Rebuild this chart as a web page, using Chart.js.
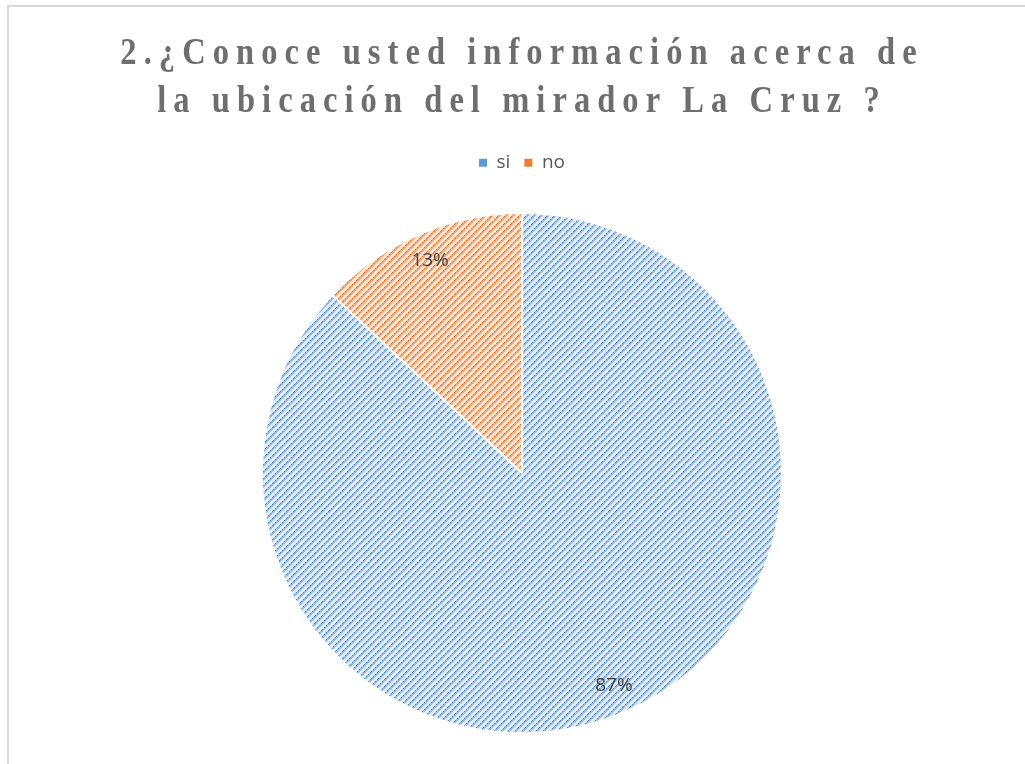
<!DOCTYPE html>
<html>
<head>
<meta charset="utf-8">
<script src="https://cdn.jsdelivr.net/npm/chart.js@4/dist/chart.umd.min.js"></script>
<style>
  html, body { margin: 0; padding: 0; background: #fff; }
  #wrap { position: relative; width: 1025px; height: 764px; }
</style>
</head>
<body>
<div id="wrap"><canvas id="pieChart" width="1025" height="764"></canvas></div>
<script>
// chart data
const titleLines = ['2.¿Conoce usted información acerca de', 'la ubicación del mirador La Cruz ?'];
const categories = ['si', 'no'];
const percents = [87, 13];
const baseColors = ['#5b9bd5', '#ed7d31'];

// excel style dotted diagonal fill
function makePattern(light, mid, dark) {
    const size = 7;
    const c = document.createElement('canvas');
    c.width = size; c.height = size;
    const g = c.getContext('2d');
    g.fillStyle = light;
    g.fillRect(0, 0, size, size);
    for (let i = 0; i < size; i++) {
        const y = size - 1 - i;
        g.fillStyle = mid;
        g.fillRect((i + 1) % size, y, 1, 1);
        g.fillRect((i + 2) % size, y, 1, 1);
        g.fillStyle = (i % 2 === 0) ? dark : mid;
        g.fillRect(i, y, 1, 1);
    }
    return g.createPattern(c, 'repeat');
}

const ctx = document.getElementById('pieChart').getContext('2d');
const fills = [
    makePattern('#e0ecf8', '#98bde8', '#4684ca'),
    makePattern('#fce4d4', '#f4a872', '#e36a20')
];

// frame lines on top and left, like the cropped excel chart
const framePlugin = {
    id: 'frame',
    beforeDraw(chart) {
        const c = chart.ctx;
        c.save();
        c.strokeStyle = '#d9d9d9';
        c.lineWidth = 2;
        c.beginPath();
        c.moveTo(8, chart.height);
        c.lineTo(8, 6);
        c.lineTo(chart.width, 6);
        c.stroke();
        c.restore();
    }
};

// spaced out, narrow title letters
const spacedTitle = {
    id: 'spacedTitle',
    beforeDraw(chart) {
        const tb = chart.titleBlock;
        if (tb && !tb._spaced) {
            const orig = tb.draw;
            tb.draw = function () {
                const c = this.ctx;
                const cx = (this.left + this.right) / 2;
                c.save();
                c.letterSpacing = '8px';
                c.translate(cx, 0);
                c.scale(0.88, 1);
                c.translate(-cx, 0);
                orig.apply(this, arguments);
                c.restore();
            };
            tb._spaced = true;
        }
    }
};

// percent labels inside slices
const pctLabels = {
    id: 'pctLabels',
    afterDatasetsDraw(chart) {
        const c = chart.ctx;
        const meta = chart.getDatasetMeta(0);
        c.save();
        c.font = '19px "Open Sans", "Liberation Sans", sans-serif';
        c.fillStyle = '#404040';
        c.textAlign = 'center';
        c.textBaseline = 'middle';
        meta.data.forEach((arc, i) => {
            const p = arc.getProps(['x', 'y', 'startAngle', 'endAngle', 'outerRadius'], true);
            const mid = (p.startAngle + p.endAngle) / 2;
            const r = p.outerRadius * 0.89;
            c.fillText(percents[i] + '%', p.x + Math.cos(mid) * r, p.y + Math.sin(mid) * r);
        });
        c.restore();
    }
};

const defaultLabels = Chart.overrides.pie.plugins.legend.labels.generateLabels;

new Chart(ctx, {
    type: 'pie',
    data: {
        labels: categories,
        datasets: [{
            data: percents,
            backgroundColor: fills,
            borderColor: '#ffffff',
            borderWidth: 2,
            radius: 260
        }]
    },
    options: {
        responsive: false,
        animation: false,
        layout: { padding: { left: 19, right: 0, top: 0, bottom: 0 } },
        plugins: {
            title: {
                display: true,
                text: titleLines,
                color: '#6e6e6e',
                font: { family: '"Liberation Serif", "DejaVu Serif", serif', size: 37, weight: 'bold', lineHeight: 1.3 },
                padding: { top: 30, bottom: 13 }
            },
            legend: {
                position: 'top',
                labels: {
                    boxWidth: 8,
                    boxHeight: 8,
                    padding: 14,
                    color: '#595959',
                    font: { family: '"Open Sans", "Liberation Sans", sans-serif', size: 19 },
                    generateLabels(chart) {
                        const items = defaultLabels(chart);
                        items.forEach((it, i) => {
                            it.fillStyle = baseColors[i];
                            it.lineWidth = 0;
                            it.strokeStyle = baseColors[i];
                        });
                        return items;
                    }
                }
            },
            tooltip: { enabled: false }
        }
    },
    plugins: [framePlugin, spacedTitle, pctLabels]
});
</script>
</body>
</html>
